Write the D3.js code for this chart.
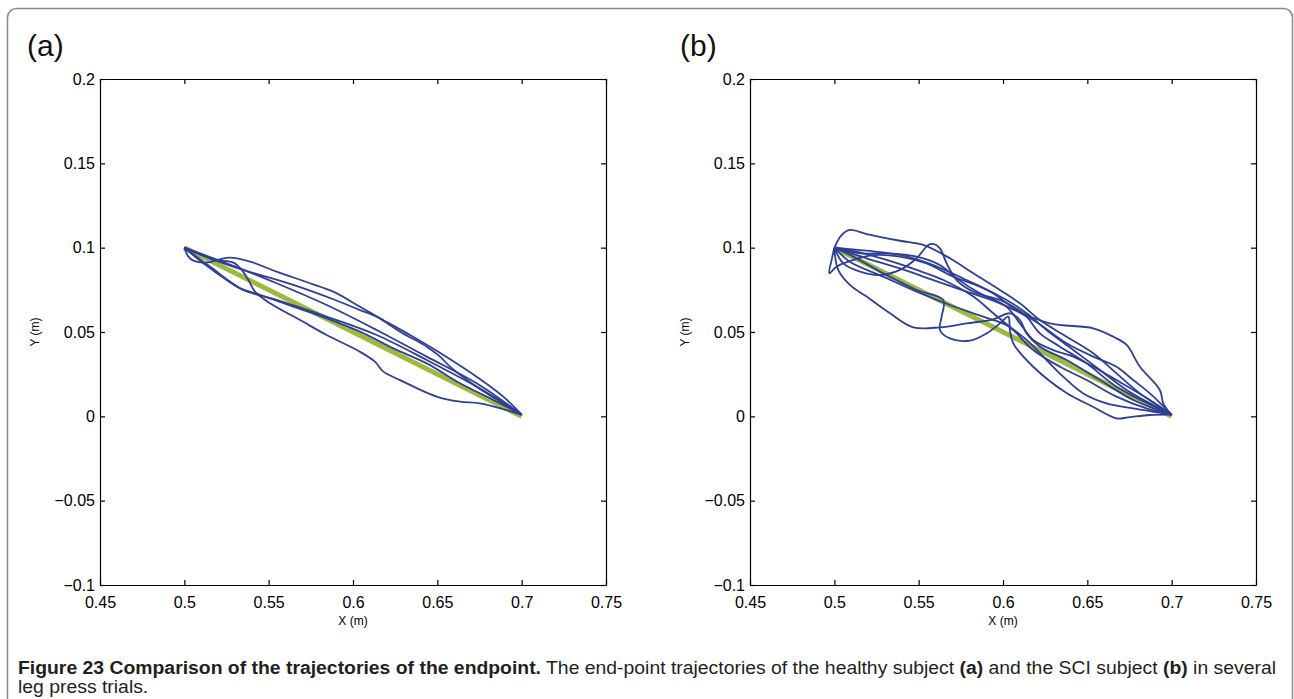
<!DOCTYPE html>
<html>
<head>
<meta charset="utf-8">
<script src="https://cdn.jsdelivr.net/npm/d3@7"></script>
<style>
  body { margin: 0; background: #fff; }
  svg text { font-family: "Liberation Sans", Arial, Helvetica, sans-serif; }
</style>
</head>
<body>
<script>
// axis ticks and labels
const xTicks = [0.45, 0.5, 0.55, 0.6, 0.65, 0.7, 0.75];
const xTickLabels = ["0.45", "0.5", "0.55", "0.6", "0.65", "0.7", "0.75"];
const yTicks = [-0.1, -0.05, 0, 0.05, 0.1, 0.15, 0.2];
const yTickLabels = ["\u22120.1", "\u22120.05", "0", "0.05", "0.1", "0.15", "0.2"];

// desired straight path of the endpoint
const referenceLine = [[0.5, 0.1], [0.7, 0.0]];

// healthy subject (a), one array per trial, [x, y] in metres
const healthyTrials = [
  [[0.5, 0.1], [0.5024, 0.0947], [0.5053, 0.0923], [0.5132, 0.0911], [0.5212, 0.0931], [0.5271, 0.0941], [0.539, 0.0917], [0.5547, 0.0858], [0.5745, 0.0789], [0.5883, 0.0739], [0.6041, 0.065], [0.616, 0.0581], [0.6338, 0.0482], [0.6536, 0.0364], [0.6733, 0.0235], [0.6891, 0.0117], [0.7, 0.001]],
  [[0.5, 0.1], [0.5152, 0.0937], [0.535, 0.0868], [0.5646, 0.0779], [0.5883, 0.0694], [0.6041, 0.063], [0.614, 0.0591], [0.6279, 0.0502], [0.6437, 0.0413], [0.6516, 0.0354], [0.6575, 0.0295], [0.6733, 0.0176], [0.7, 0.001]],
  [[0.5, 0.1], [0.5172, 0.0931], [0.5291, 0.0911], [0.534, 0.0868], [0.538, 0.0808], [0.5419, 0.0739], [0.5508, 0.067], [0.5686, 0.0571], [0.5844, 0.0482], [0.6041, 0.0383], [0.613, 0.0324], [0.618, 0.0265], [0.6279, 0.0215], [0.6496, 0.0117], [0.6634, 0.0087], [0.6753, 0.0077], [0.7, 0.001]],
  [[0.5, 0.1], [0.5113, 0.0907], [0.5251, 0.0808], [0.533, 0.0759], [0.5449, 0.072], [0.5646, 0.065], [0.5844, 0.0581], [0.6041, 0.0502], [0.6239, 0.0403], [0.6437, 0.0314], [0.6634, 0.0196], [0.6832, 0.0097], [0.7, 0.001]],
  [[0.5, 0.1], [0.5152, 0.0888], [0.535, 0.075], [0.5547, 0.069], [0.5844, 0.0591], [0.614, 0.0482], [0.6437, 0.0334], [0.6733, 0.0176], [0.7, 0.001]],
  [[0.5, 0.1], [0.5251, 0.0907], [0.5547, 0.0789], [0.5844, 0.066], [0.614, 0.0512], [0.6437, 0.0354], [0.6733, 0.0196], [0.7, 0.001]]
];

// SCI subject (b)
const sciTrials = [
  [[0.5, 0.1], [0.5043, 0.1075], [0.5092, 0.1105], [0.5191, 0.1081], [0.5389, 0.1041], [0.5527, 0.1016], [0.5685, 0.0937], [0.5824, 0.0848], [0.5982, 0.0749], [0.61, 0.067], [0.6219, 0.0571], [0.6377, 0.0472], [0.6535, 0.0374], [0.6673, 0.0255], [0.6812, 0.0136], [0.7, 0.001]],
  [[0.5, 0.1], [0.4984, 0.0927], [0.497, 0.0848], [0.5013, 0.0887], [0.5112, 0.0927], [0.5231, 0.0956], [0.5389, 0.0947], [0.5547, 0.0907], [0.5705, 0.0828], [0.5863, 0.0769], [0.6021, 0.069], [0.614, 0.0611], [0.6258, 0.0512], [0.6417, 0.0393], [0.6575, 0.0275], [0.6733, 0.0156], [0.7, 0.001]],
  [[0.5, 0.1], [0.5053, 0.0907], [0.5152, 0.0858], [0.527, 0.0838], [0.5389, 0.0868], [0.5488, 0.0937], [0.5557, 0.1016], [0.5587, 0.1022], [0.5626, 0.0996], [0.5666, 0.0907], [0.5725, 0.0808], [0.5824, 0.0739], [0.5982, 0.069], [0.6061, 0.065], [0.614, 0.0591], [0.6219, 0.0492], [0.6338, 0.0413], [0.6496, 0.0314], [0.6673, 0.0176], [0.7, 0.001]],
  [[0.5, 0.1], [0.5023, 0.0868], [0.5092, 0.0779], [0.5191, 0.071], [0.533, 0.0611], [0.5468, 0.0528], [0.5626, 0.0528], [0.5784, 0.0551], [0.5942, 0.0575], [0.6041, 0.0611], [0.61, 0.0571], [0.614, 0.0492], [0.6219, 0.0413], [0.6377, 0.0334], [0.6575, 0.0215], [0.6772, 0.0097], [0.7, 0.001]],
  [[0.5, 0.1], [0.5112, 0.0947], [0.529, 0.0848], [0.5488, 0.0749], [0.5646, 0.069], [0.5636, 0.0591], [0.5626, 0.0512], [0.5685, 0.0462], [0.5804, 0.0449], [0.5903, 0.0492], [0.5982, 0.0551], [0.6031, 0.0591], [0.6041, 0.0512], [0.6061, 0.0433], [0.6179, 0.0294], [0.6377, 0.0138], [0.6533, 0.0057], [0.6673, -0.0012], [0.6743, -0.0006], [0.6871, 0.0008], [0.7, 0.001]],
  [[0.5, 0.1], [0.5191, 0.0982], [0.5389, 0.0957], [0.5587, 0.0897], [0.5784, 0.0808], [0.5942, 0.0729], [0.6081, 0.063], [0.6278, 0.0551], [0.6535, 0.0522], [0.6654, 0.0472], [0.6733, 0.0423], [0.6812, 0.0294], [0.693, 0.0156], [0.695, 0.0077], [0.699, 0.0018]],
  [[0.5, 0.1], [0.5152, 0.0966], [0.531, 0.0966], [0.5488, 0.0947], [0.5626, 0.0897], [0.5725, 0.0818], [0.5863, 0.0729], [0.6021, 0.065], [0.61, 0.0551], [0.6179, 0.0453], [0.6298, 0.0393], [0.6417, 0.0354], [0.6535, 0.0294], [0.6673, 0.0215], [0.6871, 0.0097], [0.7, 0.001]],
  [[0.5, 0.1], [0.5092, 0.0917], [0.529, 0.0828], [0.5488, 0.0739], [0.5685, 0.066], [0.5883, 0.0591], [0.6021, 0.0541], [0.614, 0.0453], [0.6258, 0.0334], [0.6357, 0.0235], [0.6476, 0.0136], [0.6614, 0.0077], [0.6772, 0.0047], [0.7, 0.001]],
  [[0.5, 0.1], [0.5191, 0.0937], [0.5389, 0.0877], [0.5587, 0.0808], [0.5784, 0.0739], [0.5982, 0.067], [0.6179, 0.0571], [0.6377, 0.0433], [0.6535, 0.0354], [0.6673, 0.0294], [0.6772, 0.0215], [0.6871, 0.0136], [0.7, 0.001]],
  [[0.5, 0.1], [0.5132, 0.0976], [0.531, 0.0927], [0.5488, 0.0868], [0.5646, 0.0808], [0.5824, 0.071], [0.5942, 0.0611], [0.6061, 0.0512], [0.6179, 0.0393], [0.6338, 0.0294], [0.6496, 0.0215], [0.6673, 0.0117], [0.6851, 0.0047], [0.7, 0.001]]
];

// canvas
const width = 1294;
const height = 699;
const plotSize = 506;
const plotTop = 79;

const svg = d3
  .select("body")
  .append("svg")
  .attr("width", width)
  .attr("height", height);

// rounded frame around the figure
svg
  .append("rect")
  .attr("x", 7.5)
  .attr("y", 8.5)
  .attr("width", 1285)
  .attr("height", 740)
  .attr("rx", 9)
  .attr("fill", "none")
  .attr("stroke", "#8a8a8a")
  .attr("stroke-width", 1.5);

const panels = [
  { label: "(a)", labelX: 27, left: 100, trials: healthyTrials },
  { label: "(b)", labelX: 680, left: 750, trials: sciTrials }
];

const yTickText = (d) => yTickLabels[yTicks.indexOf(d)];
const xTickText = (d) => xTickLabels[xTicks.indexOf(d)];

panels.forEach(function (p) {
  const xScale = d3
    .scaleLinear()
    .domain([0.45, 0.75])
    .range([p.left, p.left + plotSize]);
  const yScale = d3
    .scaleLinear()
    .domain([-0.1, 0.2])
    .range([plotTop + plotSize, plotTop]);

  const g = svg.append("g");

  // panel letter
  g.append("text")
    .attr("x", p.labelX)
    .attr("y", 56)
    .style("font-size", "30px")
    .attr("fill", "#111")
    .text(p.label);

  // line generator
  const line = d3
    .line()
    .x((d) => xScale(d[0]))
    .y((d) => yScale(d[1]))
    .curve(d3.curveCatmullRom.alpha(0.5));

  // desired path
  g.append("path")
    .datum(referenceLine)
    .attr("d", d3.line().x((d) => xScale(d[0])).y((d) => yScale(d[1])))
    .attr("fill", "none")
    .attr("stroke", "#9cba3c")
    .attr("stroke-width", 5);

  // measured trials
  g.selectAll(".trial")
    .data(p.trials)
    .enter()
    .append("path")
    .attr("class", "trial")
    .attr("d", line)
    .attr("fill", "none")
    .attr("stroke", "#2f3f96")
    .attr("stroke-width", 1.8)
    .attr("stroke-linejoin", "round");

  // axes, ticks pointing inward on all four sides
  const bottom = g
    .append("g")
    .attr("transform", "translate(0," + (plotTop + plotSize) + ")")
    .call(
      d3.axisBottom(xScale).tickValues(xTicks).tickFormat(xTickText)
        .tickSizeInner(-5).tickSizeOuter(0).tickPadding(12)
    );
  const top = g
    .append("g")
    .attr("transform", "translate(0," + plotTop + ")")
    .call(
      d3.axisTop(xScale).tickValues(xTicks).tickFormat("")
        .tickSizeInner(-5).tickSizeOuter(0)
    );
  const left = g
    .append("g")
    .attr("transform", "translate(" + p.left + ",0)")
    .call(
      d3.axisLeft(yScale).tickValues(yTicks).tickFormat(yTickText)
        .tickSizeInner(-5).tickSizeOuter(0).tickPadding(5)
    );
  const right = g
    .append("g")
    .attr("transform", "translate(" + (p.left + plotSize) + ",0)")
    .call(
      d3.axisRight(yScale).tickValues(yTicks).tickFormat("")
        .tickSizeInner(-5).tickSizeOuter(0)
    );

  [bottom, top, left, right].forEach(function (a) {
    a.selectAll("path, line").attr("stroke", "#000").attr("stroke-width", 1.2);
    a.selectAll("text")
      .attr("fill", "#000")
      .style("font-family", "'Liberation Sans', Arial, sans-serif")
      .style("font-size", "16px");
  });

  // axis titles
  g.append("text")
    .attr("x", xScale(0.6))
    .attr("y", 625)
    .attr("text-anchor", "middle")
    .style("font-size", "12px")
    .text("X (m)");

  g.append("text")
    .attr("transform", "translate(" + (p.left - 61) + "," + yScale(0.05) + ") rotate(-90)")
    .attr("text-anchor", "middle")
    .style("font-size", "12px")
    .text("Y (m)");
});

// figure caption
const captionSize = "17.5px";
const caption = svg
  .append("text")
  .attr("x", 18)
  .attr("y", 674)
  .attr("fill", "#231f20")
  .style("font-size", captionSize);

const captionParts = [
  { t: "Figure 23 Comparison of the trajectories of the endpoint.", b: true },
  { t: " The end-point trajectories of the healthy subject ", b: false },
  { t: "(a)", b: true },
  { t: " and the SCI subject ", b: false },
  { t: "(b)", b: true },
  { t: " in several", b: false }
];

caption
  .selectAll("tspan")
  .data(captionParts)
  .enter()
  .append("tspan")
  .style("font-weight", (d) => (d.b ? "bold" : "normal"))
  .text((d) => d.t);

// squeeze the first line to the width of the reference caption
const captionWidth = caption.node().getComputedTextLength();
caption.attr("textLength", 1258).attr("lengthAdjust", "spacingAndGlyphs");

const line2 = svg
  .append("text")
  .attr("x", 18)
  .attr("y", 693)
  .attr("fill", "#231f20")
  .style("font-size", captionSize)
  .text("leg press trials.");
line2
  .attr("textLength", line2.node().getComputedTextLength() * 1258 / captionWidth)
  .attr("lengthAdjust", "spacingAndGlyphs");
</script>
</body>
</html>
